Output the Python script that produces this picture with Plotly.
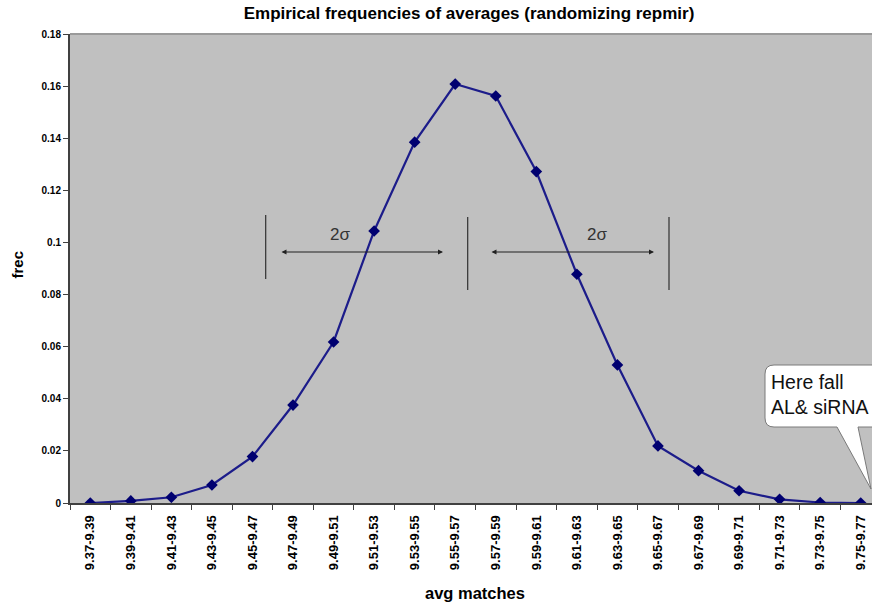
import plotly.graph_objects as go

categories = ["9.37-9.39", "9.39-9.41", "9.41-9.43", "9.43-9.45", "9.45-9.47",
              "9.47-9.49", "9.49-9.51", "9.51-9.53", "9.53-9.55", "9.55-9.57",
              "9.57-9.59", "9.59-9.61", "9.61-9.63", "9.63-9.65", "9.65-9.67",
              "9.67-9.69", "9.69-9.71", "9.71-9.73", "9.73-9.75", "9.75-9.77"]
frec = [0.0000, 0.0008, 0.0022, 0.0069, 0.0178,
        0.0376, 0.0618, 0.1044, 0.1385, 0.1608,
        0.1562, 0.1272, 0.0878, 0.0530, 0.0219,
        0.0124, 0.0047, 0.0014, 0.0002, 0.0000]
y_tickvals = [0, 0.02, 0.04, 0.06, 0.08, 0.10, 0.12, 0.14, 0.16, 0.18]
y_ticktext = ["0", "0.02", "0.04", "0.06", "0.08", "0.1", "0.12", "0.14", "0.16", "0.18"]

W, H = 872, 604
L, R, T, B = 70, 0, 34, 101
pw, ph = W - L - R, H - T - B


def px(X):
    return (X - L) / pw


def py(Y):
    return (H - B - Y) / ph


FONT = "Liberation Sans, Arial, sans-serif"

fig = go.Figure()
fig.add_trace(go.Scatter(
    x=categories, y=frec, mode="lines+markers",
    line=dict(color="#1c1c8a", width=2.2),
    marker=dict(symbol="diamond", size=9, color="#000070"),
    showlegend=False, hoverinfo="x+y"))

shapes = []
# top border of plot area
shapes.append(dict(type="line", xref="paper", yref="paper", x0=0, x1=1, y0=1, y1=1,
                   line=dict(color="#9a9a9a", width=2)))
# vertical sigma markers
for X, Y0, Y1 in [(265.7, 215, 279), (467.7, 217, 290), (669, 217, 290)]:
    shapes.append(dict(type="line", xref="paper", yref="paper",
                       x0=px(X), x1=px(X), y0=py(Y0), y1=py(Y1),
                       line=dict(color="#303030", width=1.2)))
# speech bubble
x0, x1 = px(765), px(890)
yt, yb = py(365), py(427)
rx, ry = 9 / pw, 9 / ph
tb1, tb2, tipx, tipy = px(837), px(858), px(871), py(489)
path = (f"M {x0+rx},{yt} L {x1},{yt} L {x1},{yb} L {tb2},{yb} L {tipx},{tipy} "
        f"L {tb1},{yb} L {x0+rx},{yb} Q {x0},{yb} {x0},{yb+ry} L {x0},{yt-ry} "
        f"Q {x0},{yt} {x0+rx},{yt} Z")
shapes.append(dict(type="path", xref="paper", yref="paper", path=path,
                   fillcolor="white", line=dict(color="#7a7a7a", width=1)))

annotations = []
# double-headed arrows
for Xa, Xb in [(280, 443), (490, 654)]:
    annotations.append(dict(xref="paper", yref="paper", axref="pixel", ayref="pixel",
                            x=px(Xb), y=py(252), ax=Xa - Xb, ay=0, text="",
                            showarrow=True, arrowhead=2, arrowside="end+start",
                            arrowsize=1, arrowwidth=1, arrowcolor="#202020"))
for X in [340, 597]:
    annotations.append(dict(xref="paper", yref="paper", x=px(X), y=py(234),
                            xanchor="center", yanchor="middle",
                            text="2σ", showarrow=False,
                            font=dict(family=FONT, size=17, color="#333333")))
annotations.append(dict(xref="paper", yref="paper", x=px(769), y=py(394),
                        xanchor="left", yanchor="middle", align="left",
                        text="Here fall<br>AL& siRNA", showarrow=False,
                        font=dict(family=FONT, size=19.5, color="#111111")))
annotations.append(dict(xref="paper", yref="paper", x=px(16.5), y=py(265),
                        xanchor="center", yanchor="middle",
                        text="frec", textangle=-90, showarrow=False,
                        font=dict(family=FONT, size=15, color="black", weight="bold")))
annotations.append(dict(xref="paper", yref="paper", x=px(475), y=py(593),
                        xanchor="center", yanchor="middle",
                        text="avg matches", showarrow=False,
                        font=dict(family=FONT, size=16.5, color="black", weight="bold")))

fig.update_layout(
    width=W, height=H,
    margin=dict(l=L, r=R, t=T, b=B, pad=0),
    paper_bgcolor="white", plot_bgcolor="#c0c0c0",
    title=dict(text="Empirical frequencies of averages (randomizing repmir)",
               x=px(469), xref="paper", xanchor="center",
               y=1 - 13 / H, yref="container", yanchor="middle",
               font=dict(family=FONT, size=17, color="black", weight="bold")),
    xaxis=dict(type="category", range=[-0.5, 19.5 - 9 / 40.58],
               tickson="boundaries", ticks="outside", ticklen=5, tickwidth=1,
               tickcolor="#404040", showgrid=False, zeroline=False,
               showline=True, linecolor="#404040", linewidth=2,
               tickangle=-90, ticklabelstandoff=5,
               tickfont=dict(family=FONT, size=13, color="black", weight="bold")),
    yaxis=dict(range=[0, 0.18], tickvals=y_tickvals, ticktext=y_ticktext,
               ticks="outside", ticklen=5, tickwidth=1, tickcolor="#404040",
               showgrid=False, zeroline=False, showline=True,
               linecolor="#404040", linewidth=2,
               tickfont=dict(family=FONT, size=10, color="black", weight="bold")),
    shapes=shapes, annotations=annotations,
)

fig.write_html(
    "out.html",
    config={"displayModeBar": False},
    post_script="document.body.style.margin='0';document.body.style.overflow='hidden';",
)
